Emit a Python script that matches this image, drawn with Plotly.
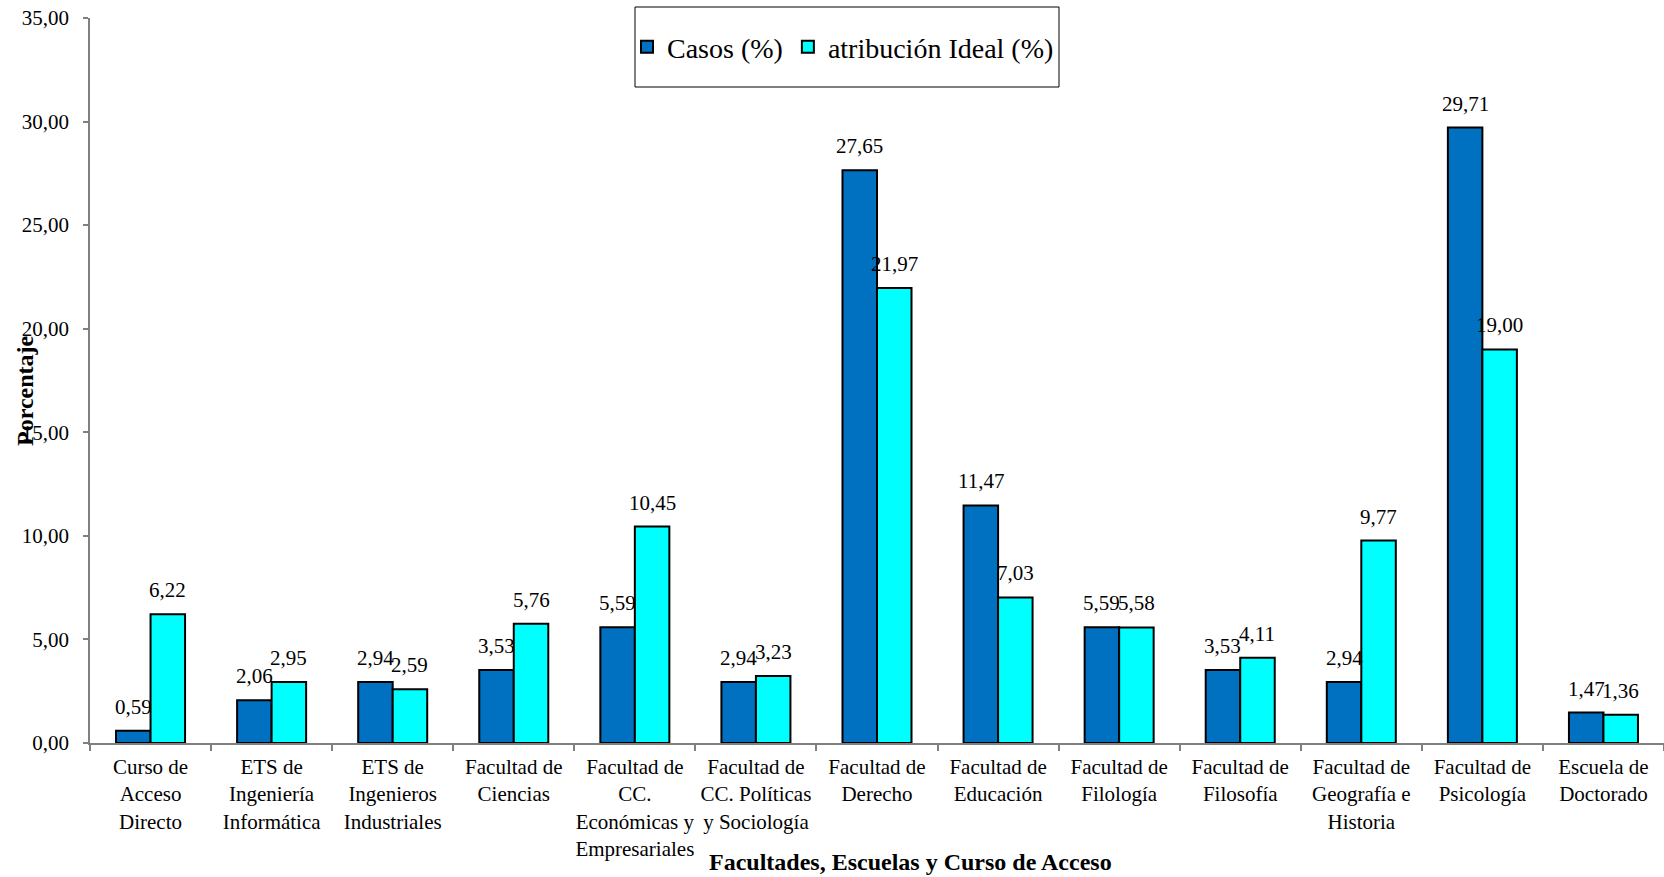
import plotly.graph_objects as go

# Categories and series values
categories = [
    "Curso de<br>Acceso<br>Directo",
    "ETS de<br>Ingeniería<br>Informática",
    "ETS de<br>Ingenieros<br>Industriales",
    "Facultad de<br>Ciencias",
    "Facultad de<br>CC.<br>Económicas y<br>Empresariales",
    "Facultad de<br>CC. Políticas<br>y Sociología",
    "Facultad de<br>Derecho",
    "Facultad de<br>Educación",
    "Facultad de<br>Filología",
    "Facultad de<br>Filosofía",
    "Facultad de<br>Geografía e<br>Historia",
    "Facultad de<br>Psicología",
    "Escuela de<br>Doctorado",
]
casos = [0.59, 2.06, 2.94, 3.53, 5.59, 2.94, 27.65, 11.47, 5.59, 3.53, 2.94, 29.71, 1.47]
ideal = [6.22, 2.95, 2.59, 5.76, 10.45, 3.23, 21.97, 7.03, 5.58, 4.11, 9.77, 19.00, 1.36]
series_names = ["Casos (%)", "atribución Ideal (%)"]
y_ticks = [0, 5, 10, 15, 20, 25, 30, 35]

FONT = '"Liberation Serif", "Times New Roman", Times, serif'
W, H = 1664, 877
M_L, M_R, M_T, M_B = 90, 0, 18, 134
BARGAP = 0.43


def fmt(v):
    return f"{v:.2f}".replace(".", ",")


fig = go.Figure()
colors = ["#0070C0", "#00FFFF"]
for name, vals, col in zip(series_names, [casos, ideal], colors):
    fig.add_trace(go.Bar(
        x=categories, y=vals, name=name,
        marker=dict(color=col, line=dict(color="black", width=2)),
    ))

# Value labels above each bar
bar_w = (1 - BARGAP) / 2
for s, vals in enumerate([casos, ideal]):
    off = (s - 0.5) * bar_w
    for i, v in enumerate(vals):
        fig.add_annotation(
            x=i + off, y=v, xref="x", yref="y", text=fmt(v), showarrow=False,
            xanchor="center", yanchor="middle", yshift=24,
            font=dict(family=FONT, size=21, color="black"),
        )

pw = W - M_L - M_R
ph = H - M_T - M_B


def px_x(p):
    return (p - M_L) / pw


def px_y(p):
    return (H - M_B - p) / ph


# Axis titles
fig.add_annotation(
    x=px_x(910), y=px_y(862), xref="paper", yref="paper", showarrow=False,
    xanchor="center", yanchor="middle",
    text="<b>Facultades, Escuelas y Curso de Acceso</b>",
    font=dict(family=FONT, size=24, color="black"),
)
fig.add_annotation(
    x=px_x(25), y=px_y(391), xref="paper", yref="paper", showarrow=False,
    xanchor="center", yanchor="middle",
    text="<b>Porcentaje</b>", textangle=-90,
    font=dict(family=FONT, size=24, color="black"),
)

# Legend frame
fig.add_shape(
    type="rect", xref="paper", yref="paper",
    x0=px_x(635), x1=px_x(1059), y0=px_y(87), y1=px_y(7),
    line=dict(color="black", width=1), fillcolor="white", layer="below",
)

fig.update_layout(
    width=W, height=H,
    margin=dict(l=M_L, r=M_R, t=M_T, b=M_B, pad=0),
    paper_bgcolor="white", plot_bgcolor="white",
    barmode="group", bargap=BARGAP, bargroupgap=0,
    separators=",.",
    font=dict(family=FONT, size=21, color="black"),
    showlegend=True,
    legend=dict(
        orientation="h", x=px_x(843), y=px_y(47), xanchor="center", yanchor="middle",
        font=dict(family=FONT, size=28, color="black"),
        bgcolor="rgba(0,0,0,0)", borderwidth=0, itemwidth=30,
    ),
    xaxis=dict(
        type="category", tickson="boundaries", ticks="outside", ticklen=6,
        tickcolor="#808080", tickwidth=1.5,
        showline=True, linecolor="#808080", linewidth=1.5,
        showgrid=False, tickangle=0, ticklabelstandoff=4,
        tickfont=dict(family=FONT, size=21, color="black"),
    ),
    yaxis=dict(
        range=[0, 35], tickvals=y_ticks, tickformat=".2f",
        ticks="outside", ticklen=5, tickcolor="#808080", tickwidth=1.5,
        showline=True, linecolor="#808080", linewidth=1.5,
        showgrid=False, zeroline=False, ticklabelstandoff=10,
        tickfont=dict(family=FONT, size=21, color="black"),
    ),
)

fig.write_html("out.html")
